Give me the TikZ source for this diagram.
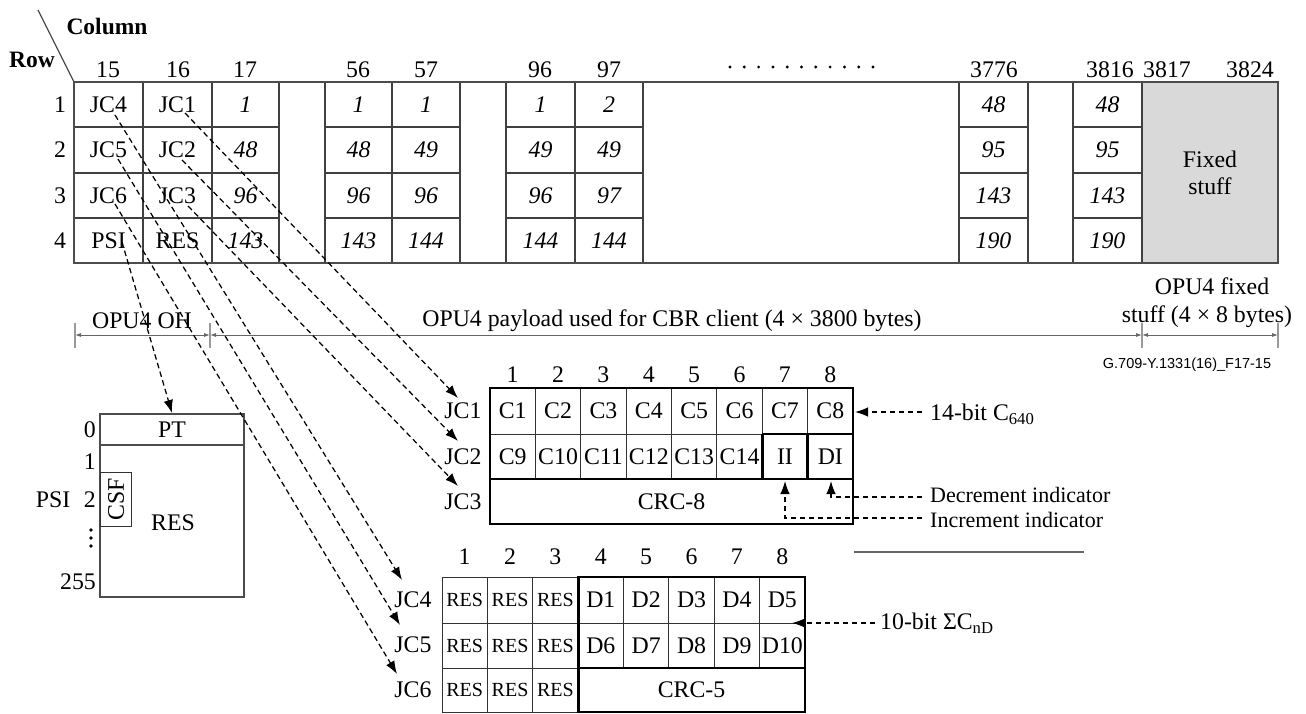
\documentclass[tikz,border=0pt]{standalone}
\usepackage{fontspec}
\setmainfont{Liberation Serif}
\newfontfamily\figsans{Liberation Sans}
\usetikzlibrary{arrows.meta}
\begin{document}
\begin{tikzpicture}[x=1pt,y=-1pt,
  every node/.style={font=\fontsize{23.8}{27}\selectfont, inner sep=0pt},
  gridline/.style={line width=1.3pt, draw=black!75},
  gridout/.style={line width=2pt, draw=black!70},
  thinl/.style={line width=1pt, draw=black!80},
  heavy/.style={line width=2.8pt, draw=black},
  darr/.style={line width=1.25pt, dash pattern=on 5.5pt off 3.5pt, -{Latex[length=13pt,width=9.5pt]}},
  dim/.style={line width=0.9pt, draw=black!60, {Latex[length=6pt,width=4pt]}-{Latex[length=6pt,width=4pt]}},
  tick/.style={line width=1.2pt, draw=black!40},
  num/.style={font=\fontsize{23.8}{27}\selectfont\itshape},
  small/.style={font=\fontsize{20}{24}\selectfont},
  indl/.style={font=\fontsize{22}{24}\selectfont, anchor=west},
  hdr/.style={font=\fontsize{23.5}{27}\selectfont\bfseries}
]
\useasboundingbox (0,0) rectangle (1306,714);

% ---------- header ----------
\node[hdr] (colh) at (107,26) {Column};
\node[hdr] (rowh) at (32,60) {Row};
\coordinate (diagA) at (38,10);
\coordinate (diagB) at (74,82);
\draw[line width=1.2pt, black!70] (diagA) -- (diagB);

\foreach \cx/\t in {108/15,178/16,245/17,358/56,426/57,540/96,609/97,994/3776,1110/3816,1167/3817,1250/3824}
  \node (h\t) at (\cx,70) {\t};
\foreach \i in {0,...,10} \fill ({730+14.3*\i},67) circle (1.6);
\foreach \r/\cy in {1/104.5,2/150,3/195.5,4/240.5}
  \node (rn\r) at (60,\cy) {\r};

% ---------- top grid ----------
\fill[gray!30] (1142,82) rectangle (1278,263);
\foreach \xa/\xb in {74/279, 325/460, 506/643, 959/1028, 1073/1142}
  \foreach \yy in {127,173,218} \draw[gridline] (\xa,\yy) -- (\xb,\yy);
\foreach \xx in {143,212,279,325,392,460,506,575,643,959,1028,1073,1142}
  \draw[gridline] (\xx,82) -- (\xx,263);
\draw[gridout] (74,82) rectangle (1278,263);

\node (jc4s) at (108.5,104.5) {JC4};
\node (jc5s) at (108.5,150) {JC5};
\node (jc6s) at (108.5,195.5) {JC6};
\node (psis) at (108.5,240.5) {PSI};
\node (jc1s) at (177.5,104.5) {JC1};
\node (jc2s) at (177.5,150) {JC2};
\node (jc3s) at (177.5,195.5) {JC3};
\node (res16) at (177.5,240.5) {RES};
\foreach \cx/\a/\b/\c/\d/\nm in {245.5/1/48/96/143/c17, 358.5/1/48/96/143/c56, 426/1/49/96/144/c57,
   540.5/1/49/96/144/c96, 609/2/49/97/144/c97, 993.5/48/95/143/190/c3776, 1107.5/48/95/143/190/c3816}{
  \node[num] (\nm a) at (\cx,104.5) {\a};
  \node[num] (\nm b) at (\cx,150) {\b};
  \node[num] (\nm c) at (\cx,195.5) {\c};
  \node[num] (\nm d) at (\cx,240.5) {\d};
}
\node[align=center, font=\fontsize{23.8}{27}\selectfont] (fixed) at (1210,173) {Fixed\\stuff};

% ---------- dimension lines ----------
\coordinate (d0) at (75,335);
\coordinate (d1) at (210,335);
\coordinate (d2) at (1142,335);
\coordinate (d3) at (1278,335);
\foreach \xx in {75,210,1142,1278} \draw[tick] (\xx,323) -- (\xx,348);
\draw[dim] (d0) -- (d1);
\draw[dim] (d1) -- (d2);
\draw[dim] (d2) -- (d3);
\node (ohl) at (142,321) {OPU4 OH};
\node (pll) at (672,321) {OPU4 payload used for CBR client (4 × 3800 bytes)};
\node (fsl1) at (1212,286) {OPU4 fixed};
\node (fsl2) at (1207,317) {stuff (4 × 8 bytes)};
\node[font=\figsans\fontsize{14.5}{16}\selectfont] (figid) at (1187,365) {G.709-Y.1331(16)\_F17-15};

% ---------- PSI box ----------
\draw[gridout] (100,414) rectangle (244,597);
\draw[gridout] (100,445) -- (244,445);
\draw[thinl] (100,472) rectangle (131,526);
\node (pt) at (172,430) {PT};
\node[rotate=90] (csf) at (116,499) {CSF};
\node (psires) at (173,523) {RES};
\node[anchor=east] (p0) at (96,430) {0};
\node[anchor=east] (p1) at (96,462) {1};
\node[anchor=east] (p2) at (96,500) {2};
\foreach \yy in {530,538,546} \fill (91,\yy) circle (1.8);
\node[anchor=east] (p255) at (96,582) {255};
\node (psil) at (53,500) {PSI};

% ---------- JC1..JC3 table ----------
\foreach \i in {1,...,8} \node (ta\i) at ({490+45.375*(\i-0.5)},375) {\i};
\node (jc1l) at (463,411) {JC1};
\node (jc2l) at (463,456.5) {JC2};
\node (jc3l) at (463,502) {JC3};
\foreach \i in {1,...,8} \node (c\i) at ({490+45.375*(\i-0.5)},411) {C\i};
\foreach \i/\t in {1/9,2/10,3/11,4/12,5/13,6/14} \node (c\t) at ({490+45.375*(\i-0.5)},456.5) {C\t};
\node (ii) at ({490+45.375*6.5},456.5) {II};
\node (di) at ({490+45.375*7.5},456.5) {DI};
\node (crc8) at (671.5,501.5) {CRC-8};
\foreach \i in {1,...,7} \draw[thinl] ({490+45.375*\i},388) -- ({490+45.375*\i},434);
\foreach \i in {1,...,5} \draw[thinl] ({490+45.375*\i},434) -- ({490+45.375*\i},479);
\draw[thinl] (490,434) -- (762.25,434);
\draw[heavy] (762.25,434) -- (853,434);
\draw[heavy] (762.25,434) -- (762.25,479);
\draw[heavy] (807.6,434) -- (807.6,479);
\draw[heavy] (490,479) -- (853,479);
\draw[heavy] (490,388) rectangle (853,524);

% ---------- JC4..JC6 table ----------
\foreach \i in {1,...,8} \node (tb\i) at ({442+45.375*(\i-0.5)},557) {\i};
\node (jc4l) at (413,600) {JC4};
\node (jc5l) at (413,645) {JC5};
\node (jc6l) at (413,690) {JC6};
\foreach \r/\cy in {1/600,2/645.5,3/690}
  \foreach \i in {1,2,3} \node[small] (res\r\i) at ({442+45.375*(\i-0.5)},\cy) {RES};
\foreach \i in {1,...,5} \node (dd\i) at ({442+45.375*(\i+2.5)},600) {D\i};
\foreach \i/\t in {1/6,2/7,3/8,4/9,5/10} \node (dd\t) at ({442+45.375*(\i+2.5)},645.5) {D\t};
\node (crc5) at (691.5,690) {CRC-5};
\draw[thinl] (442,577) rectangle (578.1,712);
\draw[thinl] (487.4,577) -- (487.4,712);
\draw[thinl] (532.75,577) -- (532.75,712);
\draw[thinl] (442,623) -- (805,623);
\draw[thinl] (442,668) -- (578.1,668);
\foreach \xx in {623.5,668.9,714.25,759.6} \draw[thinl] (\xx,577) -- (\xx,668);
\draw[heavy] (578.1,577) rectangle (805,712);
\draw[heavy] (578.1,668) -- (805,668);

% ---------- side annotations ----------
\coordinate (a14s) at (922,412);
\coordinate (a14t) at (855,412);
\draw[darr] (a14s) -- (a14t);
\node[anchor=west] (l14) at (930,414) {14-bit C\textsubscript{640}};
\coordinate (decs) at (922,497);
\coordinate (dect) at (831,481);
\draw[darr] (decs) -| (dect);
\node[indl] (ldec) at (930,495) {Decrement indicator};
\coordinate (incs) at (922,518);
\coordinate (inct) at (785,481);
\draw[darr] (incs) -| (inct);
\node[indl] (linc) at (930,520) {Increment indicator};
\coordinate (sepA) at (854,552);
\coordinate (sepB) at (1084,552);
\draw[line width=1.2pt, black!60] (sepA) -- (sepB);
\coordinate (a10s) at (875,623);
\coordinate (a10t) at (792,623);
\draw[darr] (a10s) -- (a10t);
\node[anchor=west] (l10) at (880,623) {10-bit ΣC\textsubscript{nD}};

% ---------- dashed mapping connectors ----------
\coordinate (jc4a) at (115,115);
\coordinate (jc5a) at (118,159);
\coordinate (jc6a) at (115,204);
\coordinate (psia) at (122,242);
\coordinate (jc1a) at (185,113);
\coordinate (jc2a) at (182,160);
\coordinate (jc3a) at (188,206);
\coordinate (jc4t) at (402,580);
\coordinate (jc5t) at (400,625);
\coordinate (jc6t) at (397,674);
\coordinate (ptt) at (172,413);
\coordinate (jc1t) at (458,398);
\coordinate (jc2t) at (458,441);
\coordinate (jc3t) at (458,486);
\draw[darr] (jc4a) -- (jc4t);
\draw[darr] (jc5a) -- (jc5t);
\draw[darr] (jc6a) -- (jc6t);
\draw[darr] (psia) -- (ptt);
\draw[darr] (jc1a) -- (jc1t);
\draw[darr] (jc2a) -- (jc2t);
\draw[darr] (jc3a) -- (jc3t);
\end{tikzpicture}
\end{document}
